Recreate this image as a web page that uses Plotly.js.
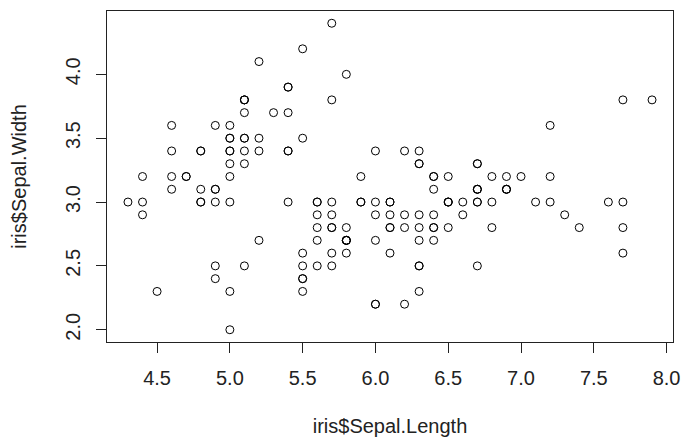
<!DOCTYPE html>
<html>
<head>
<meta charset="utf-8">
<script src="https://cdn.plot.ly/plotly-3.0.1.min.js"></script>
<style>html,body{margin:0;padding:0;background:#fff;}#chart{width:681px;height:442px;}</style>
</head>
<body>
<div id="chart"></div>
<script>
var sepalLength = [
5.1,4.9,4.7,4.6,5.0,5.4,4.6,5.0,4.4,4.9,5.4,4.8,4.8,4.3,5.8,5.7,5.4,5.1,5.7,5.1,
5.4,5.1,4.6,5.1,4.8,5.0,5.0,5.2,5.2,4.7,4.8,5.4,5.2,5.5,4.9,5.0,5.5,4.9,4.4,5.1,
5.0,4.5,4.4,5.0,5.1,4.8,5.1,4.6,5.3,5.0,
7.0,6.4,6.9,5.5,6.5,5.7,6.3,4.9,6.6,5.2,5.0,5.9,6.0,6.1,5.6,6.7,5.6,5.8,6.2,5.6,
5.9,6.1,6.3,6.1,6.4,6.6,6.8,6.7,6.0,5.7,5.5,5.5,5.8,6.0,5.4,6.0,6.7,6.3,5.6,5.5,
5.5,6.1,5.8,5.0,5.6,5.7,5.7,6.2,5.1,5.7,
6.3,5.8,7.1,6.3,6.5,7.6,4.9,7.3,6.7,7.2,6.5,6.4,6.8,5.7,5.8,6.4,6.5,7.7,7.7,6.0,
6.9,5.6,7.7,6.3,6.7,7.2,6.2,6.1,6.4,7.2,7.4,7.9,6.4,6.3,6.1,7.7,6.3,6.4,6.0,6.9,
6.7,6.9,5.8,6.8,6.7,6.7,6.3,6.5,6.2,5.9
];
var sepalWidth = [
3.5,3.0,3.2,3.1,3.6,3.9,3.4,3.4,2.9,3.1,3.7,3.4,3.0,3.0,4.0,4.4,3.9,3.5,3.8,3.8,
3.4,3.7,3.6,3.3,3.4,3.0,3.4,3.5,3.4,3.2,3.1,3.4,4.1,4.2,3.1,3.2,3.5,3.6,3.0,3.4,
3.5,2.3,3.2,3.5,3.8,3.0,3.8,3.2,3.7,3.3,
3.2,3.2,3.1,2.3,2.8,2.8,3.3,2.4,2.9,2.7,2.0,3.0,2.2,2.9,2.9,3.1,3.0,2.7,2.2,2.5,
3.2,2.8,2.5,2.8,2.9,3.0,2.8,3.0,2.9,2.6,2.4,2.4,2.7,2.7,3.0,3.4,3.1,2.3,3.0,2.5,
2.6,3.0,2.6,2.3,2.7,3.0,2.9,2.9,2.5,2.8,
3.3,2.7,3.0,2.9,3.0,3.0,2.5,2.9,2.5,3.6,3.2,2.7,3.0,2.5,2.8,3.2,3.0,3.8,2.6,2.2,
3.2,2.8,2.8,2.7,3.3,3.2,2.8,3.0,2.8,3.0,2.8,3.8,2.8,2.8,2.6,3.0,3.4,3.1,3.0,3.1,
3.1,3.1,2.7,3.2,3.3,3.0,2.5,3.0,3.4,3.0
];
var xTicks = [4.5,5.0,5.5,6.0,6.5,7.0,7.5,8.0];
var yTicks = [2.0,2.5,3.0,3.5,4.0];
var xTitle = "iris$Sepal.Length";
var yTitle = "iris$Sepal.Width";

function padRange(a){
  var mn = Math.min.apply(null,a), mx = Math.max.apply(null,a);
  var p = (mx-mn)*0.04;
  return [mn-p, mx+p];
}

var font = {family: "Liberation Sans, Arial, sans-serif", size: 20, color: "#222"};

var trace = {
  x: sepalLength, y: sepalWidth, type: "scatter", mode: "markers",
  marker: {symbol: "circle-open", size: 8, color: "#000", line: {width: 1, color: "#000"}},
  hoverinfo: "x+y"
};

var layout = {
  width: 681, height: 442,
  margin: {l: 107, r: 8, t: 11, b: 100},
  paper_bgcolor: "#fff", plot_bgcolor: "#fff",
  showlegend: false,
  font: font,
  xaxis: {
    range: padRange(sepalLength),
    tickvals: xTicks, ticktext: xTicks.map(function(v){return v.toFixed(1);}),
    ticks: "outside", ticklen: 10, tickwidth: 1, tickcolor: "#222",
    showgrid: false, zeroline: false,
    showline: true, mirror: true, linecolor: "#222", linewidth: 1,
    tickfont: font, ticklabelstandoff: 8,
    title: {text: xTitle, font: font, standoff: 30}
  },
  yaxis: {
    range: padRange(sepalWidth),
    tickvals: yTicks, ticktext: yTicks.map(function(v){return v.toFixed(1);}),
    ticks: "outside", ticklen: 10, tickwidth: 1, tickcolor: "#222",
    tickangle: -90,
    showgrid: false, zeroline: false,
    showline: true, mirror: true, linecolor: "#222", linewidth: 1,
    tickfont: font, ticklabelstandoff: 8,
    title: {text: yTitle, font: font, standoff: 30}
  }
};

Plotly.newPlot("chart", [trace], layout, {staticPlot: true, displayModeBar: false});
</script>
</body>
</html>
